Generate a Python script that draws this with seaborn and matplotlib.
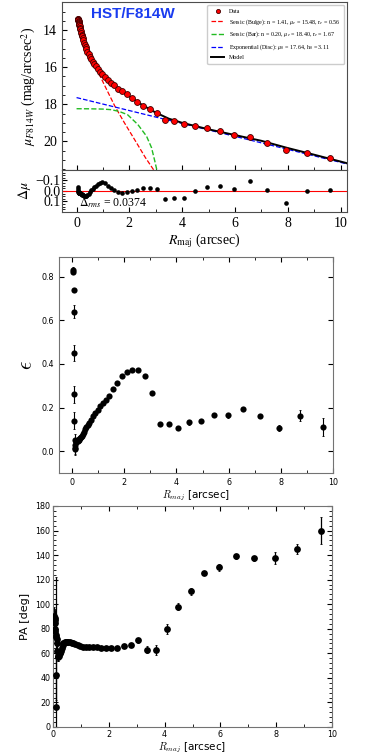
import numpy as np
import pandas as pd
import seaborn as sns
import matplotlib.pyplot as plt
from matplotlib.ticker import MultipleLocator, AutoMinorLocator

# isophote radii (arcsec), shared by all three panels
radius = [0.050, 0.055, 0.061, 0.067, 0.074, 0.082, 0.090, 0.099,
          0.109, 0.120, 0.132, 0.145, 0.160, 0.176, 0.193, 0.212,
          0.234, 0.257, 0.283, 0.311, 0.342, 0.376, 0.414, 0.455,
          0.501, 0.551, 0.606, 0.667, 0.733, 0.806, 0.887, 0.976,
          1.073, 1.181, 1.299, 1.429, 1.571, 1.729, 1.901, 2.091,
          2.301, 2.531, 2.784, 3.062, 3.368, 3.705, 4.075, 4.483,
          4.931, 5.425, 5.967, 6.564, 7.220, 7.942, 8.736, 9.610]

mu_data = [13.41, 13.42, 13.44, 13.47, 13.50, 13.55, 13.60, 13.66,
           13.73, 13.80, 13.88, 13.96, 14.05, 14.14, 14.24, 14.34,
           14.45, 14.56, 14.68, 14.80, 14.92, 15.04, 15.17, 15.30,
           15.43, 15.56, 15.70, 15.83, 15.96, 16.10, 16.24, 16.38,
           16.52, 16.67, 16.83, 16.98, 17.15, 17.30, 17.46, 17.66,
           17.88, 18.08, 18.28, 18.48, 18.83, 18.92, 19.09, 19.18,
           19.29, 19.43, 19.67, 19.77, 20.11, 20.49, 20.65, 20.92]

dmu = [-0.040, -0.020, 0.000, 0.010, 0.010, 0.015, 0.015, 0.015,
       0.015, 0.015, 0.020, 0.020, 0.025, 0.030, 0.030, 0.035,
       0.040, 0.040, 0.045, 0.045, 0.047, 0.045, 0.035, 0.025,
       0.010, -0.005, -0.020, -0.035, -0.050, -0.065, -0.080, -0.090,
       -0.075, -0.045, -0.025, -0.005, 0.007, 0.016, 0.007, 0.000,
       -0.010, -0.025, -0.030, -0.020, 0.080, 0.065, 0.070, 0.000,
       -0.040, -0.050, -0.020, -0.096, -0.005, 0.119, 0.005, -0.010]

eps = [0.83, 0.82, 0.74, 0.64, 0.45, 0.26, 0.14, 0.05,
       0.017, 0.008, 0.03, 0.04, 0.045, 0.045, 0.045, 0.048,
       0.050, 0.052, 0.056, 0.060, 0.065, 0.072, 0.080, 0.090,
       0.100, 0.110, 0.120, 0.130, 0.145, 0.160, 0.175, 0.190,
       0.205, 0.219, 0.234, 0.254, 0.285, 0.311, 0.343, 0.362,
       0.372, 0.372, 0.343, 0.265, 0.124, 0.124, 0.107, 0.132,
       0.139, 0.165, 0.165, 0.193, 0.160, 0.107, 0.162, 0.110]

eps_err = [0.015, 0.01, 0.01, 0.03, 0.035, 0.04, 0.04, 0.03,
           0.03, 0.025, 0.02, 0.015, 0.01, 0.01, 0.008, 0.008,
           0.005, 0.005, 0.005, 0.005, 0.005, 0.005, 0.005, 0.005,
           0.005, 0.005, 0.005, 0.005, 0.005, 0.005, 0.005, 0.005,
           0.005, 0.005, 0.005, 0.005, 0.005, 0.005, 0.005, 0.005,
           0.005, 0.005, 0.008, 0.008, 0.01, 0.01, 0.01, 0.01,
           0.01, 0.01, 0.012, 0.01, 0.01, 0.015, 0.025, 0.04]

pa = [90, 89, 87, 85, 80, 78, 75, 73,
      16, 42, 72, 68, 62, 58, 57, 58,
      60, 60, 62, 64.5, 66.5, 68, 69, 69.5,
      69.5, 69.5, 69.3, 68.8, 68, 67.3, 66.7, 66,
      65.5, 65.3, 65.2, 65, 64.8, 64.5, 64.3, 64,
      64.6, 66, 67, 70.7, 63, 63, 80, 98,
      110.5, 125.4, 130, 139, 137.5, 137.5, 145, 160]

pa_err = [8, 6, 5, 5, 4, 4, 4, 4,
          106, 20, 5, 5, 4, 4, 3, 3,
          2, 2, 2, 1.5, 1.5, 1, 1, 1,
          1, 1, 1, 1, 1, 1, 1, 1,
          1, 1, 1, 1, 1, 1, 1, 1,
          1, 1.5, 1.5, 2, 3, 4, 4, 3,
          3, 2, 3, 2, 2, 5, 4, 11]

# model and component curves
model_r = [0.0, 0.05, 0.1, 0.2, 0.3, 0.5, 0.75, 1.0, 1.5, 2.0, 2.5, 3.0, 3.5, 4.0, 5.0, 6.0, 7.0, 8.0, 9.0, 10.25]
model_mu = [13.38, 13.41, 13.68, 14.25, 14.72, 15.42, 16.02, 16.47, 17.08, 17.57, 18.05, 18.45, 18.78, 19.0, 19.35, 19.66, 19.97, 20.36, 20.72, 21.18]
bulge_r = [0.0, 0.1, 0.2, 0.3, 0.45, 0.6, 0.8, 1.0, 1.2, 1.45, 1.8, 2.26, 2.6, 2.95]
bulge_mu = [13.38, 13.70, 14.20, 14.62, 15.14, 15.60, 16.20, 16.80, 17.38, 18.10, 18.97, 20.05, 20.86, 21.60]
bar_r = [0.0, 0.5, 1.0, 1.3, 1.6, 1.93, 2.32, 2.65, 2.84, 2.97, 3.05]
bar_mu = [18.24, 18.245, 18.26, 18.29, 18.38, 18.56, 19.09, 19.72, 20.34, 21.10, 21.60]
disc_r = [0.0, 3.0, 6.0, 10.25]
disc_mu = [17.64, 18.69, 19.73, 21.22]

df = pd.DataFrame({"R": radius, "mu": mu_data, "dmu": dmu, "eps": eps,
                   "eps_err": eps_err, "pa": pa, "pa_err": pa_err})

plt.rcParams["font.family"] = "DejaVu Sans"
fig = plt.figure(figsize=(3.65, 7.56), dpi=100)

serif = "Liberation Serif"

# ---------- surface brightness profile ----------
ax1 = fig.add_axes([0.170, 0.775, 0.781, 0.222])
sns.lineplot(x=bulge_r, y=bulge_mu, ax=ax1, color="red", lw=0.9, ls="--",
             label=r"Sersic (Bulge): n = 1.41, $\mu_e$ = 15.48, r$_e$ = 0.56")
sns.lineplot(x=bar_r, y=bar_mu, ax=ax1, color="#22bb22", lw=1.0, ls="--",
             label=r"Sersic (Bar): n = 0.20, $\mu_e$ = 18.40, r$_e$ = 1.67")
sns.lineplot(x=disc_r, y=disc_mu, ax=ax1, color="blue", lw=0.9, ls="--",
             label=r"Exponential (Disc): $\mu_0$ = 17.64, h$_0$ = 3.11")
sns.lineplot(x=model_r, y=model_mu, ax=ax1, color="black", lw=1.4, label="Model")
sns.scatterplot(data=df, x="R", y="mu", ax=ax1, color="red", edgecolor="#400000",
                linewidth=0.6, s=18, zorder=5, label="Data")
h, l = ax1.get_legend_handles_labels()
order = [4, 0, 1, 2, 3]
leg = ax1.legend([h[i] for i in order], [l[i] for i in order], loc="upper right",
                 prop={"family": serif, "size": 4.3}, handlelength=2.2,
                 borderpad=0.6, labelspacing=0.5, framealpha=1, markerscale=0.7)
for t in leg.get_texts():
    t.set_math_fontfamily("stix")
ax1.set_xlim(-0.55, 10.25)
ax1.set_ylim(21.55, 12.5)
ax1.tick_params(labelbottom=False)
ax1.set_xlabel("")
ax1.set_ylabel(r"$\mu_{F814W}$ (mag/arcsec$^2$)", family=serif, fontsize=10,
               math_fontfamily="stix")
ax1.yaxis.set_major_locator(MultipleLocator(2))
ax1.yaxis.set_minor_locator(MultipleLocator(0.5))
ax1.xaxis.set_major_locator(MultipleLocator(2))
ax1.tick_params(direction="in", labelsize=10, which="both")
ax1.tick_params(which="minor", length=2)
for t in ax1.get_yticklabels():
    t.set_family(serif)
ax1.text(0.1, 0.93, "HST/F814W", transform=ax1.transAxes, color="#1a3cf0",
         fontsize=11, fontweight="bold", family="Liberation Sans", va="center")

# ---------- residuals ----------
ax2 = fig.add_axes([0.170, 0.7196, 0.781, 0.0556], sharex=ax1)
ax2.axhline(0, color="red", lw=0.8)
sns.scatterplot(data=df, x="R", y="dmu", ax=ax2, color="black", s=11,
                linewidth=0, zorder=5)
ax2.set_ylim(0.2, -0.2)
ax2.set_yticks([-0.1, 0.0, 0.1])
ax2.set_yticklabels(["\u22120.1", "0.0", "0.1"], fontsize=6.2, family=serif)
ax2.yaxis.set_minor_locator(MultipleLocator(0.025))
ax2.xaxis.set_minor_locator(MultipleLocator(1))
ax2.tick_params(direction="in", labelsize=10, which="both")
ax2.tick_params(which="minor", length=2)
ax2.tick_params(axis="y", pad=1)
for t in ax2.get_xticklabels():
    t.set_family(serif)
ax2.set_ylabel(r"$\Delta\mu$", fontsize=10, math_fontfamily="stix", labelpad=2)
ax2.set_xlabel(r"$R_{\rm maj}$ (arcsec)", family=serif, fontsize=10,
               math_fontfamily="stix", labelpad=1)
ax2.text(0.06, 0.04, r"$\Delta_{rms}$ = 0.0374", transform=ax2.transAxes,
         family=serif, fontsize=8.5, math_fontfamily="stix", va="bottom")
for a in (ax1, ax2):
    for s in a.spines.values():
        s.set_color("0.3")

# ---------- ellipticity ----------
ax3 = fig.add_axes([0.1616, 0.3743, 0.7507, 0.2857])
ax3.errorbar(df["R"], df["eps"], yerr=df["eps_err"], fmt="none", ecolor="black",
             elinewidth=0.8, capsize=1, capthick=0.6)
sns.scatterplot(data=df, x="R", y="eps", ax=ax3, color="black", s=20,
                linewidth=0, zorder=5)
ax3.set_xlim(-0.5, 10)
ax3.set_ylim(-0.1, 0.89)
ax3.set_xlabel(r"$R_{maj}$ [arcsec]", fontsize=7.5, math_fontfamily="cm", labelpad=1)
ax3.set_ylabel(r"$\epsilon$", fontsize=15, math_fontfamily="cm")
ax3.xaxis.set_major_locator(MultipleLocator(2))
ax3.xaxis.set_minor_locator(MultipleLocator(1))
ax3.yaxis.set_major_locator(MultipleLocator(0.2))
ax3.tick_params(direction="in", top=True, right=True, which="both", labelsize=5.8)
ax3.tick_params(which="minor", length=2)

# ---------- position angle ----------
ax4 = fig.add_axes([0.1452, 0.0384, 0.7644, 0.2923])
ax4.errorbar(df["R"], df["pa"], yerr=df["pa_err"], fmt="none", ecolor="black",
             elinewidth=0.9, capsize=1, capthick=0.6)
sns.scatterplot(data=df, x="R", y="pa", ax=ax4, color="black", s=24,
                linewidth=0, zorder=5)
ax4.set_xlim(0, 10)
ax4.set_ylim(0, 180)
ax4.set_xlabel(r"$R_{maj}$ [arcsec]", fontsize=7.5, math_fontfamily="cm", labelpad=1)
ax4.set_ylabel("PA [deg]", fontsize=8)
ax4.xaxis.set_major_locator(MultipleLocator(2))
ax4.xaxis.set_minor_locator(MultipleLocator(1))
ax4.yaxis.set_major_locator(MultipleLocator(20))
ax4.yaxis.set_minor_locator(MultipleLocator(4))
ax4.tick_params(direction="in", top=True, right=True, which="both", labelsize=5.8, pad=2)
ax4.tick_params(which="minor", length=2)

for a in (ax3, ax4):
    for s in a.spines.values():
        s.set_color("0.45")
        s.set_linewidth(0.8)

fig.savefig("out.png", dpi=100)
